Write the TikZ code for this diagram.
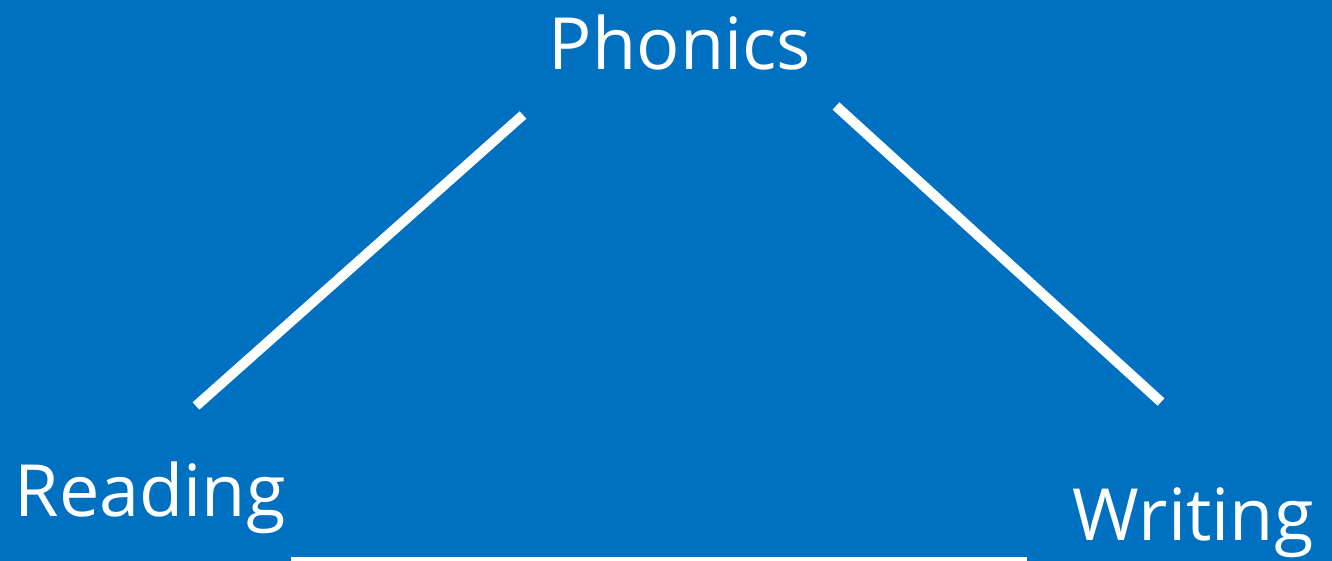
\documentclass[tikz,border=0pt]{standalone}
\usepackage{fontspec}
\setmainfont{Open Sans}
\definecolor{bgblue}{HTML}{0070C0}
\begin{document}
\begin{tikzpicture}[x=1pt,y=-1pt,
  lbl/.style={text=white,font=\fontsize{72}{78}\selectfont,inner sep=0pt,anchor=base},
  conn/.style={draw=white,line width=10pt}]
\fill[bgblue] (0,0) rectangle (1332,561);
\useasboundingbox (0,0) rectangle (1332,561);
\node[lbl] (phonics) at (680,70) {Phonics};
\node[lbl] (reading) at (150,516) {Reading};
\node[lbl] (writing) at (1193,540) {Writing};
\coordinate (l1) at (196,406);
\coordinate (l2) at (523,115);
\coordinate (r1) at (836,106);
\coordinate (r2) at (1161,402);
\coordinate (b1) at (291,562);
\coordinate (b2) at (1027,562);
\draw[conn] (l1) -- (l2);
\draw[conn] (r1) -- (r2);
\draw[conn] (b1) -- (b2);
\end{tikzpicture}
\end{document}
